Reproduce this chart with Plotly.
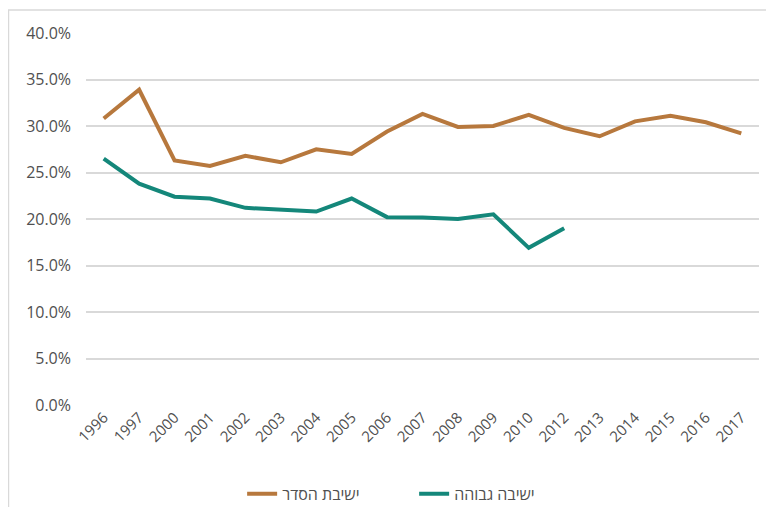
import plotly.graph_objects as go

years = ["1996", "1997", "2000", "2001", "2002", "2003", "2004", "2005", "2006",
         "2007", "2008", "2009", "2010", "2012", "2013", "2014", "2015", "2016", "2017"]
hesder = [30.8, 33.9, 26.3, 25.7, 26.8, 26.1, 27.5, 27.0, 29.4,
          31.3, 29.9, 30.0, 31.2, 29.8, 28.9, 30.5, 31.1, 30.4, 29.2]
gvoha_years = ["1996", "1997", "2000", "2001", "2002", "2003", "2004", "2005", "2006",
               "2007", "2008", "2009", "2010", "2012"]
gvoha = [26.5, 23.8, 22.4, 22.2, 21.2, 21.0, 20.8, 22.2, 20.2,
         20.15, 20.0, 20.5, 16.9, 19.0]
series_names = ["ישיבת הסדר", "ישיבה גבוהה"]
y_ticks = [0, 5, 10, 15, 20, 25, 30, 35, 40]

fig = go.Figure()
fig.add_trace(go.Scatter(x=years, y=hesder, mode="lines", name=series_names[0],
                         line=dict(color="#B7783D", width=4)))
fig.add_trace(go.Scatter(x=gvoha_years, y=gvoha, mode="lines", name=series_names[1],
                         line=dict(color="#14877A", width=4)))

font_family = "Open Sans, DejaVu Sans, sans-serif"
fig.update_layout(
    width=758, height=499,
    margin=dict(l=78, r=7, t=25, b=102, autoexpand=False),
    paper_bgcolor="white", plot_bgcolor="white",
    font=dict(family=font_family, size=16, color="#505050"),
    xaxis=dict(type="category", categoryorder="array", categoryarray=years,
               range=[-0.5, len(years) - 0.5], tickangle=-45, automargin=False,
               showgrid=False, zeroline=False, showline=False, ticks="",
               tickfont=dict(size=15, color="#505050")),
    yaxis=dict(range=[0, 40], tickvals=y_ticks, automargin=False,
               ticktext=[f"{v:.1f}%" for v in y_ticks],
               showgrid=True, gridcolor="#D9D9D9", gridwidth=1.5,
               zeroline=False, showline=False, ticks="", ticklabelstandoff=14,
               tickfont=dict(size=16, color="#505050")),
    legend=dict(orientation="h", x=0.232, xanchor="left", y=-0.239, yanchor="middle",
                font=dict(size=16, color="#505050"),
                entrywidth=127, entrywidthmode="pixels"),
    showlegend=True,
    shapes=[dict(type="rect", xref="paper", yref="paper",
                 x0=-0.1152, x1=1.1, y0=-0.4, y1=1.0618,
                 line=dict(color="#D9D9D9", width=1.5), layer="below")],
)

fig.write_html("out.html")
